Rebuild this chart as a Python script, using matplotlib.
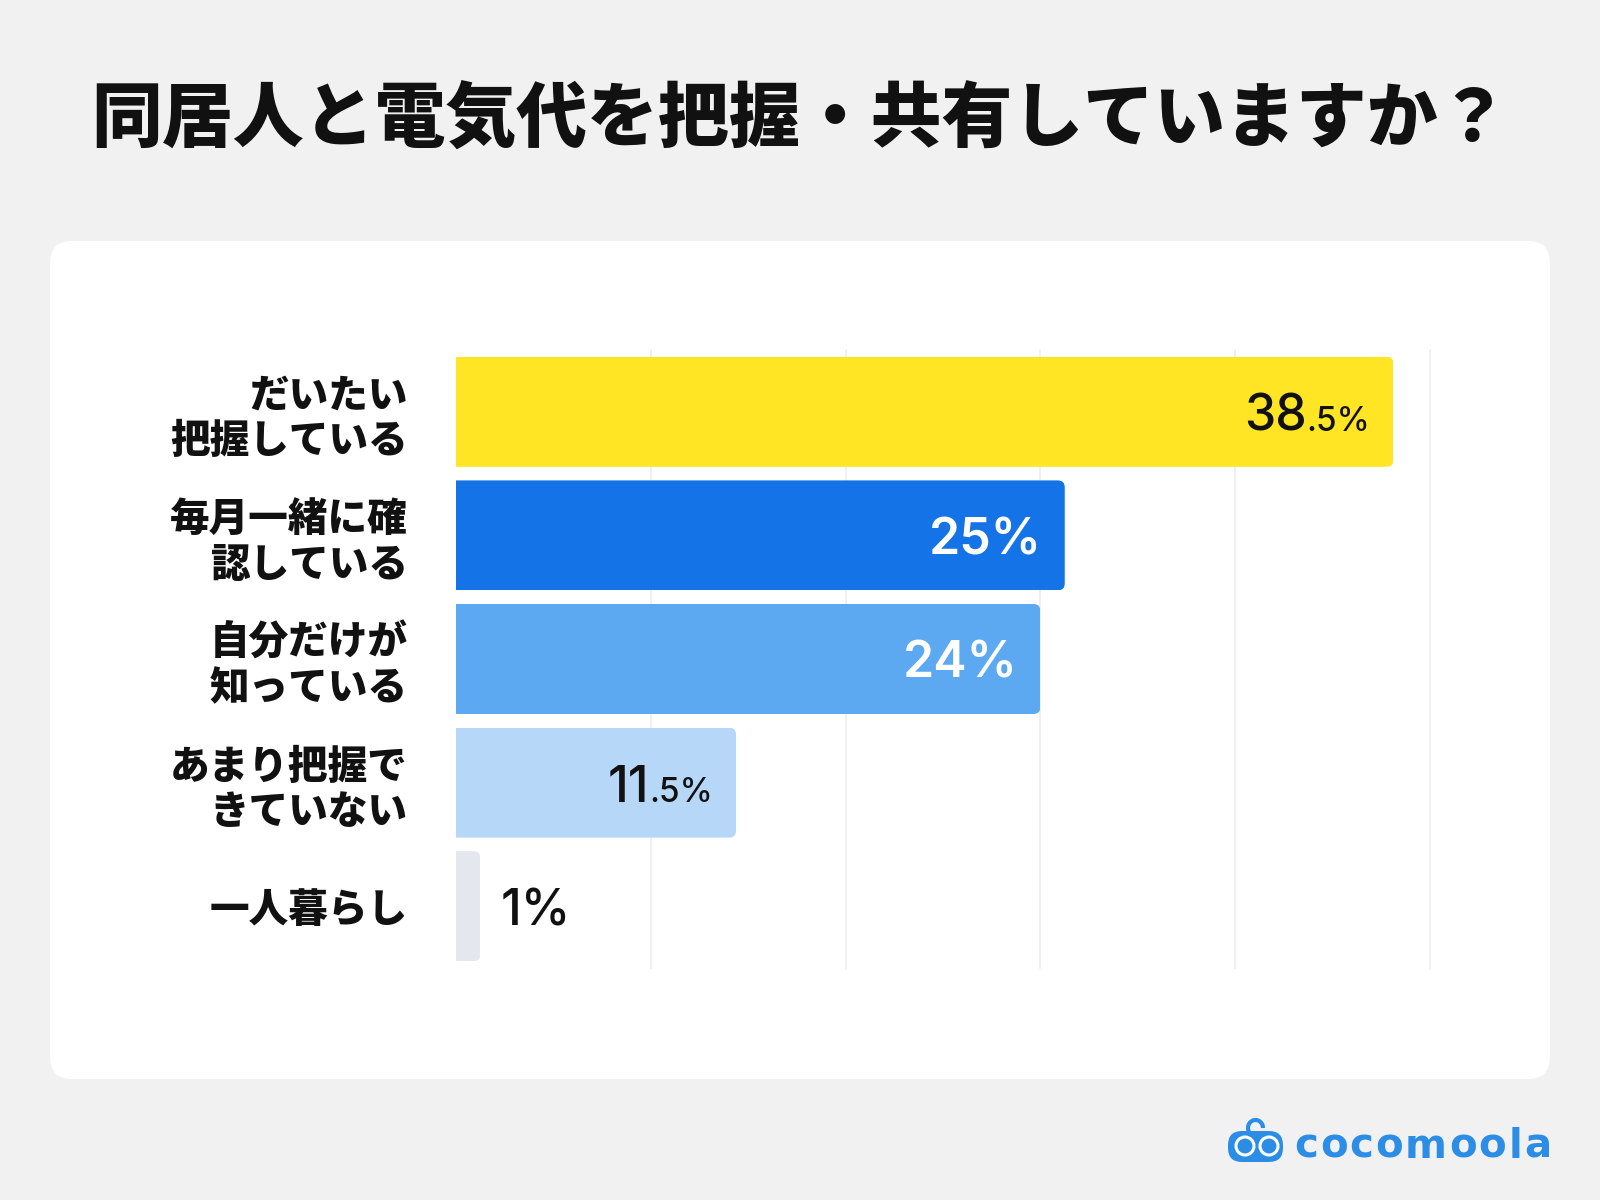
import matplotlib
matplotlib.use('Agg')
import matplotlib.pyplot as plt
from matplotlib.patches import FancyBboxPatch, Circle, Arc
import matplotlib.transforms as mtransforms

plt.rcParams['font.family'] = ['Noto Sans CJK JP', 'DejaVu Sans']

# ---- data ----
title = '同居人と電気代を把握・共有していますか？'
categories = ['だいたい\n把握している', '毎月一緒に確\n認している', '自分だけが\n知っている',
              'あまり把握で\nきていない', '一人暮らし']
values = [38.5, 25, 24, 11.5, 1]
bar_colors = ['#FFE523', '#1473E6', '#5CA9F1', '#B7D7F8', '#E4E7EE']
label_colors = ['#111111', '#FFFFFF', '#FFFFFF', '#111111', '#111111']
x_max = 40
grid_ticks = [8, 16, 24, 32, 40]
brand = 'cocomoola'

W, H = 1600, 1200
fig = plt.figure(figsize=(16, 12), dpi=100)
fig.patch.set_facecolor('#F1F1F1')

# background / pixel-coordinate axes
bg = fig.add_axes([0, 0, 1, 1], zorder=0)
bg.set_xlim(0, W)
bg.set_ylim(H, 0)
bg.axis('off')
bg.add_patch(FancyBboxPatch((50, 241), 1500, 838, boxstyle='round,pad=0,rounding_size=22',
                            fc='white', ec='none'))
bg.text(800, 121, title, ha='center', va='center', fontsize=51, fontweight='black',
        color='#111111')

# logo
blue = '#2B8DE5'
bg.add_patch(FancyBboxPatch((1228, 1131), 55, 31, boxstyle='round,pad=0,rounding_size=14',
                            fc=blue, ec='none'))
bg.add_patch(Arc((1255.5, 1128), 15, 16, theta1=150, theta2=360, color=blue, lw=3))
for cx in (1245, 1269):
    bg.add_patch(Circle((cx, 1146), 9, fc='none', ec='white', lw=2.2))

fig.canvas.draw()
renderer = fig.canvas.get_renderer()
# brand text, letter-spaced, right-aligned at x=1551
logo_font = dict(fontsize=29, color=blue, family=['DejaVu Sans'], fontweight='bold')
spacing = 2.0
cw = []
for ch in brand:
    t = bg.text(0, 0, ch, **logo_font)
    cw.append(t.get_window_extent(renderer).width)
    t.remove()
total = sum(cw) + spacing * (len(brand) - 1)
x = 1551 - total
for ch, w in zip(brand, cw):
    bg.text(x, 1158, ch, ha='left', va='baseline', **logo_font)
    x += w + spacing

# chart axes
ax = fig.add_axes([456 / W, 1 - 968 / H, 974 / W, 618 / H], zorder=1)
ax.set_facecolor('none')
ax.set_xlim(0, x_max)
ax.set_ylim(len(values) - 0.5, -0.5)
ypos = list(range(len(values)))

for g in grid_ticks:
    ax.axvline(g, color='#EDEDED', lw=1.2, zorder=0, clip_on=False)

bars = ax.barh(ypos, values, height=0.89, color=bar_colors, zorder=2)

# rounded right corners via clip path
px_per_x = 974 / x_max
px_per_y = 618 / len(values)
r_px = 7
aspect = px_per_x / px_per_y
for b in bars:
    x0, y0 = b.get_x(), b.get_y()
    w, h = b.get_width(), b.get_height()
    clip = FancyBboxPatch((x0 - 2, y0), w + 2, h,
                          boxstyle=f'round,pad=0,rounding_size={r_px / px_per_x}',
                          mutation_aspect=aspect, transform=ax.transData)
    b.set_clip_path(clip)

ax.set_yticks(ypos)
ax.set_yticklabels(categories, fontsize=28.5, fontweight='heavy', color='#111111', linespacing=1.18)
for t in ax.get_yticklabels():
    t.set_multialignment('right')
    t.set_transform(t.get_transform() + mtransforms.ScaledTranslation(0, 3 / 100, fig.dpi_scale_trans))
ax.tick_params(axis='y', length=0, pad=48 * 0.72)
ax.set_xticks([])
for s in ax.spines.values():
    s.set_visible(False)

# value labels
fig.canvas.draw()
renderer = fig.canvas.get_renderer()
num_font = ['Inter', 'DejaVu Sans']
big_fs, small_fs = 36, 24
for i, v in enumerate(values):
    if float(v).is_integer():
        big, small = f'{int(v)}%', ''
    else:
        s = f'{v}'
        big, small = s.split('.')[0], '.' + s.split('.')[1] + '%'
    col = label_colors[i]
    wt = 'semibold' if col == '#FFFFFF' else 'medium'
    base = mtransforms.offset_copy(ax.transData, fig=fig, x=0, y=-19, units='dots')
    inside = v > 5
    if inside:
        xpos = v - 23 / px_per_x
        if small:
            ts = ax.text(xpos, i, small, ha='right', va='baseline', fontsize=small_fs,
                         color=col, family=num_font, fontweight=wt, transform=base, zorder=3)
            wdt = ts.get_window_extent(renderer).width
            tb = mtransforms.offset_copy(base, fig=fig, x=-wdt, y=0, units='dots')
            ax.text(xpos, i, big, ha='right', va='baseline', fontsize=big_fs, color=col,
                    family=num_font, fontweight=wt, transform=tb, zorder=3)
        else:
            ax.text(xpos, i, big, ha='right', va='baseline', fontsize=big_fs, color=col,
                    family=num_font, fontweight=wt, transform=base, zorder=3)
    else:
        xpos = v + 20 / px_per_x
        tbig = ax.text(xpos, i, big, ha='left', va='baseline', fontsize=big_fs, color=col,
                       family=num_font, fontweight=wt, transform=base, zorder=3)
        if small:
            wdt = tbig.get_window_extent(renderer).width
            tsm = mtransforms.offset_copy(base, fig=fig, x=wdt, y=0, units='dots')
            ax.text(xpos, i, small, ha='left', va='baseline', fontsize=small_fs, color=col,
                    family=num_font, fontweight=wt, transform=tsm, zorder=3)

fig.savefig('out.png', dpi=100, facecolor=fig.get_facecolor())
